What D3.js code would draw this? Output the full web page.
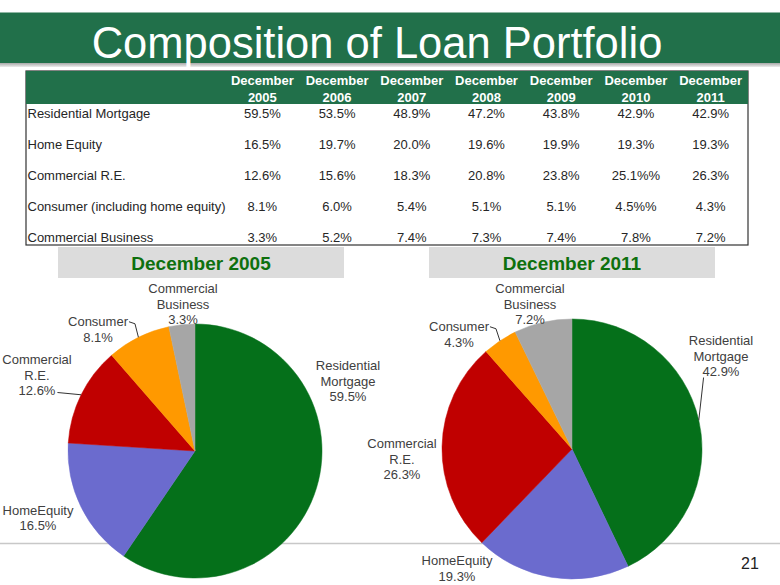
<!DOCTYPE html>
<html><head><meta charset="utf-8">
<script src="https://cdn.jsdelivr.net/npm/d3@7"></script>
<style>body{margin:0;background:#fff;} svg{display:block;font-family:Arial,"Liberation Sans",sans-serif;}</style>
</head><body><svg id="c" width="780" height="585"></svg>
<script>
// ---------- data ----------
const title = "Composition of Loan Portfolio";
const years = ["2005","2006","2007","2008","2009","2010","2011"];
const categories = ["Residential Mortgage","Home Equity","Commercial R.E.","Consumer (including home equity)","Commercial Business"];
const v2005 = ["59.5%","16.5%","12.6%","8.1%","3.3%"];
const v2006 = ["53.5%","19.7%","15.6%","6.0%","5.2%"];
const v2007 = ["48.9%","20.0%","18.3%","5.4%","7.4%"];
const v2008 = ["47.2%","19.6%","20.8%","5.1%","7.3%"];
const v2009 = ["43.8%","19.9%","23.8%","5.1%","7.4%"];
const v2010 = ["42.9%","19.3%","25.1%%","4.5%%","7.8%"];
const v2011 = ["42.9%","19.3%","26.3%","4.3%","7.2%"];
const pieNames = [["Residential","Mortgage"],["HomeEquity"],["Commercial","R.E."],["Consumer"],["Commercial","Business"]];
const pieColors = ["#05701A","#6B6BCE","#C00000","#FF9900","#A6A6A6"];
const pieYears = ["2005","2011"];

const columns = [v2005,v2006,v2007,v2008,v2009,v2010,v2011];

// ---------- layout ----------
const svg = d3.select("#c");
const green = "#21704A";
const textCol = "#404040";

// bottom rule
svg.append("line").attr("x1",0).attr("x2",780).attr("y1",543.5).attr("y2",543.5)
  .attr("stroke","#c8c8c8").attr("stroke-width",1.5);

// title band
svg.append("rect").attr("x",0).attr("y",12.5).attr("width",780).attr("height",50.5).attr("fill",green);
const grad = svg.append("defs").append("linearGradient").attr("id","sh").attr("x1",0).attr("x2",0).attr("y1",0).attr("y2",1);
grad.append("stop").attr("offset","0%").attr("stop-color","#a8a8a8");
grad.append("stop").attr("offset","100%").attr("stop-color","#ececec");
svg.append("rect").attr("x",0).attr("y",63).attr("width",780).attr("height",4).attr("fill","url(#sh)");
svg.append("text").attr("x",377).attr("y",57.5).attr("text-anchor","middle")
  .attr("fill","#fff").attr("font-size",43.5).text(title);

// table
const tbl = {x:26, y:71, w:722, h:174, headH:33};
const xCol = d3.scaleBand().domain(years).range([225,748]);
const yRow = d3.scalePoint().domain(categories).range([113,237]);
svg.append("rect").attr("x",tbl.x).attr("y",tbl.y).attr("width",tbl.w).attr("height",tbl.h)
  .attr("fill","#fff").attr("stroke","#333").attr("stroke-width",1.2);
svg.append("rect").attr("x",tbl.x).attr("y",tbl.y).attr("width",tbl.w).attr("height",tbl.headH).attr("fill",green);
const head = svg.append("g").attr("font-weight","bold").attr("font-size",13).attr("fill","#fff").attr("text-anchor","middle");
years.forEach(yr=>{
  const cx = xCol(yr)+xCol.bandwidth()/2;
  head.append("text").attr("x",cx).attr("y",80).attr("dy","0.35em").text("December");
  head.append("text").attr("x",cx).attr("y",97).attr("dy","0.35em").text(yr);
});
const body = svg.append("g").attr("font-size",13).attr("fill","#262626");
categories.forEach((c,i)=>{
  body.append("text").attr("x",tbl.x+1.5).attr("y",yRow(c)).attr("dy","0.35em").text(c);
  years.forEach((yr,j)=>{
    body.append("text").attr("x",xCol(yr)+xCol.bandwidth()/2).attr("y",yRow(c)).attr("dy","0.35em")
      .attr("text-anchor","middle").text(columns[j][i]);
  });
});

// subtitle boxes & pies
const pieCfg = [
  {cx:195, cy:451, r:127, box:[58,344],
   lab:[[153,-70],[-157,67],[-158,-76],[-97,-121.5],[-12,-147]],
   lead:[null,null,{line:2,side:"right"},{line:0,side:"rightElbow"},null]},
  {cx:572, cy:449, r:130, box:[429,715],
   lab:[[149,-93],[-115,119.5],[-170,10],[-113,-114.5],[-42,-145]],
   lead:[{line:2,side:"below"},null,null,{line:0,side:"rightElbow"},null]}
];
const pie = d3.pie().sort(null).value(d=>d);
pieYears.forEach((yr,k)=>{
  const cfg = pieCfg[k];
  const vals = columns[years.indexOf(yr)].map(s=>parseFloat(s));
  svg.append("rect").attr("x",cfg.box[0]).attr("y",247).attr("width",cfg.box[1]-cfg.box[0]).attr("height",31).attr("fill","#DCDCDC");
  svg.append("text").attr("x",(cfg.box[0]+cfg.box[1])/2).attr("y",263).attr("dy","0.35em")
    .attr("text-anchor","middle").attr("font-weight","bold").attr("font-size",19).attr("fill","#0E700E")
    .text("December " + yr);
  const g = svg.append("g").attr("transform",`translate(${cfg.cx},${cfg.cy})`);
  const arc = d3.arc().innerRadius(0).outerRadius(cfg.r);
  const arcs = pie(vals);
  g.selectAll("path").data(arcs).join("path").attr("d",arc)
    .attr("fill",(d,i)=>pieColors[i]).attr("stroke",(d,i)=>pieColors[i]).attr("stroke-width",0.5);
  // labels
  arcs.forEach((a,i)=>{
    const lines = pieNames[i].concat([columns[years.indexOf(yr)][i]]);
    const [ox,oy] = cfg.lab[i];
    const lg = g.append("text").attr("font-size",13).attr("fill",textCol).attr("text-anchor","middle");
    const step = 15.5;
    const tsp = lines.map((ln,li)=> lg.append("tspan").attr("x",ox).attr("y",oy+(li-(lines.length-1)/2)*step).attr("dy","0.35em").text(ln));
    const ld = cfg.lead[i];
    if(ld){
      const ang = (a.startAngle+a.endAngle)/2;
      const ex = Math.sin(ang)*cfg.r, ey = -Math.cos(ang)*cfg.r;
      const ly = oy+(ld.line-(lines.length-1)/2)*step;
      const w = tsp[ld.line].node().getComputedTextLength();
      let pts;
      if(ld.side==="right") pts=[[ox+w/2+2,ly+2],[ex,ey]];
      else if(ld.side==="rightElbow") pts=[[ox+w/2+1,ly],[ox+w/2+7,ly+2],[ex,ey]];
      else pts=[[ox-w/2+1,ly+6],[ex,ey]];
      g.append("path").attr("d",d3.line()(pts)).attr("fill","none").attr("stroke","#333").attr("stroke-width",1);
    }
  });
});

// page number
svg.append("text").attr("x",750).attr("y",563).attr("dy","0.35em").attr("text-anchor","middle")
  .attr("font-size",16).attr("fill","#222").text("21");
</script></body></html>
